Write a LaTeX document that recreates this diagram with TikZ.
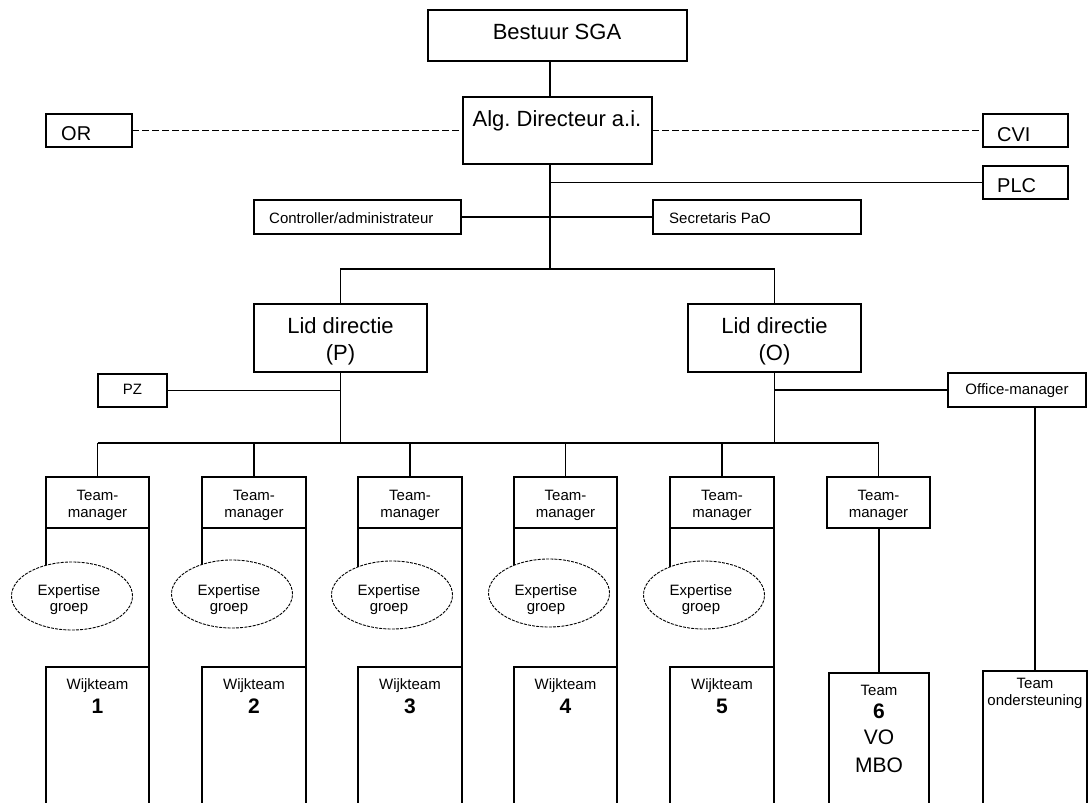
\documentclass[tikz,border=0pt]{standalone}
\usepackage{fontspec}
\setmainfont{Liberation Sans}
\usetikzlibrary{shapes.geometric,calc}
\pgfdeclarelayer{bg}
\pgfsetlayers{bg,main}
\frenchspacing
\begin{document}
\begin{tikzpicture}[x=1pt,y=-1pt,
  box/.style={draw, line width=1.2pt, rectangle, inner sep=0pt, outer sep=0pt, anchor=north west},
  egroup/.style={draw, ellipse, line width=0.9pt, dash pattern=on 3pt off 1.2pt, fill=white,
                 minimum width=121pt, minimum height=68pt, inner sep=0pt, outer sep=0pt},
  conn/.style={line width=1.3pt},
  dconn/.style={line width=1.3pt, dash pattern=on 7pt off 3pt},
  tbig/.style={font=\fontsize{22}{24}\selectfont, inner sep=0pt, anchor=base},
  tmid/.style={font=\fontsize{20}{22}\selectfont, inner sep=0pt, anchor=base west},
  tsml/.style={font=\fontsize{15}{17}\selectfont, inner sep=0pt, anchor=base},
  tnum/.style={font=\fontsize{21}{23}\selectfont\bfseries, inner sep=0pt, anchor=base},
  tlet/.style={font=\fontsize{21}{23}\selectfont, inner sep=0pt, anchor=base}
]
\useasboundingbox (0,0) rectangle (1088,803);
\clip (0,0) rectangle (1088,803);

% ---- top boxes ----
\node[box, minimum width=259pt, minimum height=51pt] (bestuur) at (428,10) {};
\node[box, minimum width=189pt, minimum height=67pt] (alg) at (463,97) {};
\node[box, minimum width=86pt, minimum height=33pt] (or) at (46,114) {};
\node[box, minimum width=85pt, minimum height=33pt] (cvi) at (983,114) {};
\node[box, minimum width=85pt, minimum height=33pt] (plc) at (983,166) {};
\node[box, minimum width=207pt, minimum height=34pt] (ctrl) at (254,200) {};
\node[box, minimum width=208pt, minimum height=34pt] (sec) at (653,200) {};
\node[box, minimum width=173pt, minimum height=68pt] (lidP) at (254,304) {};
\node[box, minimum width=173pt, minimum height=68pt] (lidO) at (688,304) {};
\node[box, minimum width=69pt, minimum height=33pt] (pz) at (98,374) {};
\node[box, minimum width=138pt, minimum height=34pt] (om) at (948,373) {};

\coordinate (spine) at (550,0);
\coordinate (midc) at (550,269);
\coordinate (bus) at (0,443);

% ---- texts top ----
\node[tbig] (tBestuur) at (557,39) {Bestuur SGA};
\node[tbig] (tAlg) at (557,126) {Alg. Directeur a.i.};
\node[tmid] (tOR) at (61,140) {OR};
\node[tmid] (tCVI) at (997,141) {CVI};
\node[tmid] (tPLC) at (997,192) {PLC};
\node[tsml, anchor=base west] (tCtrl) at (269,223) {Controller/administrateur};
\node[tsml, anchor=base west] (tSec) at (669,223) {Secretaris PaO};
\node[tbig] (tLidP1) at (340.5,333) {Lid directie};
\node[tbig] (tLidP2) at (340.5,360) {(P)};
\node[tbig] (tLidO1) at (774.5,333) {Lid directie};
\node[tbig] (tLidO2) at (774.5,360) {(O)};
\node[tsml] (tPZ) at (132.5,394) {PZ};
\node[tsml] (tOM) at (1017,394) {Office-manager};

% ---- team-manager columns 1-5 ----
\foreach \i/\l/\r/\ex/\ey in {1/46/149/72/596, 2/202/306/232/594, 3/358/462/392/595, 4/514/617/549/593, 5/670/774/704/595}{
  \node[box, minimum width={(\r-\l)*1pt}, minimum height=51pt] (tm\i) at (\l,477) {};
  \node[box, minimum width={(\r-\l)*1pt}, minimum height=145pt] (wt\i) at (\l,667) {};
  \node[egroup] (eg\i) at (\ex,\ey) {};
  \node[tsml] (tmA\i) at ({(\l+\r)/2},500) {Team-};
  \node[tsml] (tmB\i) at ({(\l+\r)/2},517) {manager};
  \node[tsml] (egA\i) at (\ex-3,595) {Expertise};
  \node[tsml] (egB\i) at (\ex-3,611) {groep};
  \node[tsml] (wtA\i) at ({(\l+\r)/2},689) {Wijkteam};
  \node[tnum] (wtB\i) at ({(\l+\r)/2},713) {\i};
  \begin{pgfonlayer}{bg}
    \draw[conn] (tm\i.north) -- (tm\i.north |- bus);
    \draw[conn] (tm\i.south west) -- (tm\i.south west |- eg\i.center);
    \draw[conn] (tm\i.south east) -- (wt\i.north east);
  \end{pgfonlayer}
}

% ---- column 6 and support ----
\node[box, minimum width=103pt, minimum height=51pt] (tm6) at (827,477) {};
\node[tsml] (tmA6) at (878.5,500) {Team-};
\node[tsml] (tmB6) at (878.5,517) {manager};
\node[box, minimum width=100pt, minimum height=139pt] (t6) at (829,673) {};
\node[tsml] (t6A) at (879,695) {Team};
\node[tnum] (t6B) at (879,718) {6};
\node[tlet] (t6C) at (879,744) {VO};
\node[tlet] (t6D) at (879,772) {MBO};
\node[box, minimum width=104pt, minimum height=141pt] (tond) at (983,671) {};
\node[tsml] (tondA) at (1035,688) {Team};
\node[tsml] (tondB) at (1035,705) {ondersteuning};

% ---- connectors ----
\begin{pgfonlayer}{bg}
  \draw[conn] (bestuur.south -| spine) -- (alg.north -| spine);
  \draw[conn] (alg.south -| spine) -- (midc);
  \draw[dconn] (or.east) -- (alg.west |- or.east);
  \draw[dconn] (alg.east |- cvi.west) -- (cvi.west);
  \draw[conn] (spine |- plc.west) -- (plc.west);
  \draw[conn] (ctrl.east) -- (sec.west);
  \draw[conn] (lidP.north) -- (lidP.north |- midc) -- (lidO.north |- midc) -- (lidO.north);
  \draw[conn] (pz.east) -- (lidP.south |- pz.east);
  \draw[conn] (om.west) -- (lidO.south |- om.west);
  \draw[conn] (lidP.south) -- (lidP.south |- bus);
  \draw[conn] (lidO.south) -- (lidO.south |- bus);
  \draw[conn] (tm1.north |- bus) -- (tm6.north |- bus);
  \draw[conn] (tm6.north) -- (tm6.north |- bus);
  \draw[conn] (tm6.south -| t6.north) -- (t6.north);
  \draw[conn] (om.south -| tond.north) -- (tond.north);
\end{pgfonlayer}
\end{tikzpicture}
\end{document}
